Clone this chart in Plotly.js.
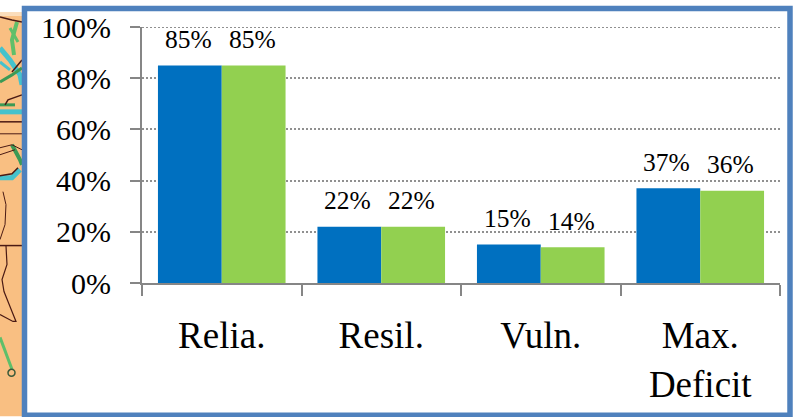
<!DOCTYPE html>
<html><head><meta charset="utf-8">
<script src="https://cdn.plot.ly/plotly-3.0.0.min.js"></script>
<style>html,body{margin:0;padding:0;background:#fff}#c{width:794px;height:417px}</style></head>
<body><div id="c"></div>
<script>
const categories = ["Relia.", "Resil.", "Vuln.", "Max.<br>Deficit"];
const seriesA = [0.85, 0.22, 0.15, 0.37];
const seriesB = [0.85, 0.22, 0.14, 0.36];
const yTicks = [0, 0.2, 0.4, 0.6, 0.8, 1];
const serif = "Liberation Serif, Times New Roman, serif";
const W = 794, H = 417;
const mL = 142, mR = 14, mT = 27, mB = 133.5;
const pw = W - mL - mR, ph = H - mT - mB;
const fx = x => (x - mL) / pw;
const fy = y => (H - mB - y) / ph;
const pathOf = pts => "M" + pts.map(p => fx(p[0]).toFixed(4) + "," + fy(p[1]).toFixed(4)).join(" L");
const line = (pts, color, width) => ({type: "path", xref: "paper", yref: "paper", path: pathOf(pts), line: {color, width}, layer: "below"});
const box = (x0, y0, x1, y1, fill, stroke, sw) => ({type: "rect", xref: "paper", yref: "paper", x0: fx(x0), x1: fx(x1), y0: fy(y1), y1: fy(y0), fillcolor: fill, line: stroke ? {color: stroke, width: sw} : {width: 0}, layer: "below"});
const borderColor = "#4F81BD";
const dark = "#4A1A14", teal = "#45C2CC", green = "#5FBF6A", deep = "#3C9A55";
const shapes = [
  box(0, 16, 24, 417, "#F9BF82"),
  box(0, 12, 24, 16, "#FBDDBB"),
  line([[17, 22], [12, 40], [14, 55]], green, 4),
  line([[10, 28], [18, 42]], green, 3),
  line([[0, 48], [10, 60], [20, 75], [22, 85]], teal, 5),
  line([[0, 62], [10, 70]], teal, 3),
  line([[0, 82], [12, 75], [22, 68]], deep, 3),
  line([[0, 105], [15, 105]], deep, 3),
  line([[0, 112], [22, 112]], teal, 5),
  line([[0, 17], [12, 20], [22, 22]], dark, 1.5),
  line([[22, 60], [12, 72]], dark, 1.5),
  line([[5, 105], [8, 100], [22, 95]], dark, 1.5),
  line([[0, 122], [22, 122]], dark, 1.5),
  line([[0, 134], [22, 134]], dark, 1),
  line([[12, 145], [20, 160], [22, 165]], deep, 4),
  line([[0, 178], [12, 178], [20, 170]], teal, 5),
  line([[0, 176], [12, 174], [18, 168]], dark, 1.5),
  line([[0, 148], [12, 145], [22, 150]], dark, 1),
  line([[0, 155], [15, 150]], dark, 1),
  line([[3, 192], [6, 205], [5, 225], [0, 240]], dark, 1),
  line([[0, 246], [22, 246]], dark, 1.5),
  line([[6, 246], [7, 265], [2, 280], [4, 292], [12, 312], [16, 322], [13, 322], [0, 315]], dark, 1.2),
  line([[0, 338], [12, 370]], green, 3),
  {type: "circle", xref: "paper", yref: "paper", x0: fx(8), x1: fx(15), y0: fy(377), y1: fy(370), line: {color: "#3A5A3A", width: 1.5}, layer: "below"},
  box(24.5, 8.5, 790, 416, "#ffffff", borderColor, 5.5),
  {type: "line", xref: "paper", yref: "y", x0: 0, x1: 1, y0: 1, y1: 1, line: {color: "#909090", width: 2, dash: "2px,2px"}, layer: "below"}
];
const annotations = [];
categories.forEach((c, i) => {
  annotations.push({x: c, y: seriesA[i], text: Math.round(seriesA[i] * 100) + "%", showarrow: false, xshift: -33.5, yshift: 26, yanchor: "middle", font: {family: serif, size: 25.5, color: "#000"}});
  annotations.push({x: c, y: seriesB[i], text: Math.round(seriesB[i] * 100) + "%", showarrow: false, xshift: 30.5, yshift: 26, yanchor: "middle", font: {family: serif, size: 25.5, color: "#000"}});
});
const traces = [
  {type: "bar", x: categories, y: seriesA, marker: {color: "#0070C0"}, name: "A"},
  {type: "bar", x: categories, y: seriesB, marker: {color: "#92D050"}, name: "B"}
];
const layout = {
  width: W, height: H, showlegend: false, barmode: "group", bargap: 0.2, bargroupgap: 0,
  paper_bgcolor: "#ffffff", plot_bgcolor: "rgba(0,0,0,0)",
  margin: {l: mL, r: mR, t: mT, b: mB, pad: 0},
  font: {family: serif, color: "#000"},
  xaxis: {type: "category", tickson: "boundaries", ticks: "outside", ticklen: 11, tickwidth: 2, tickcolor: "#868686",
    showline: true, linecolor: "#868686", linewidth: 2, tickfont: {family: serif, size: 37, color: "#000"}, ticklabelstandoff: 19, automargin: false},
  yaxis: {range: [0, 1], tickvals: yTicks, tickformat: ".0%", ticks: "outside", ticklen: 10, tickwidth: 2, tickcolor: "#868686",
    showline: true, linecolor: "#868686", linewidth: 2, showgrid: true, gridcolor: "#909090", gridwidth: 2, griddash: "2px,2px", zeroline: false,
    tickfont: {family: serif, size: 30, color: "#000"}, ticklabelstandoff: 13, automargin: false},
  shapes, annotations
};
Plotly.newPlot("c", traces, layout, {displayModeBar: false, staticPlot: true});
</script></body></html>
